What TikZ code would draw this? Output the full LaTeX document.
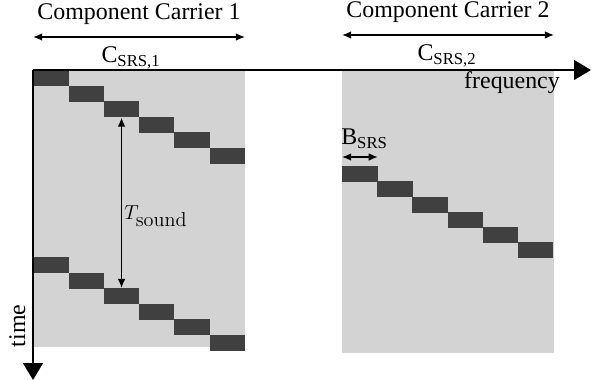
\documentclass[tikz,border=0pt]{standalone}
\usepackage[no-math]{fontspec}
\setmainfont{Liberation Serif}
\usepackage{xcolor}
\usetikzlibrary{arrows.meta}

\definecolor{bandgray}{HTML}{D3D3D3}
\definecolor{slotgray}{HTML}{404040}

\begin{document}
\begin{tikzpicture}[
        x=0.025cm, y=-0.025cm,
        band/.style={
            fill=bandgray,
            inner sep=0pt,
            anchor=north west,
            minimum width=5.3cm
        },
        slot/.style={
            fill=slotgray,
            inner sep=0pt,
            anchor=north west,
            minimum width=0.8825cm,
            minimum height=0.4cm
        },
        txt/.style={
            font=\rmfamily\fontsize{17}{20}\selectfont,
            inner sep=0pt,
            anchor=base
        },
        axis/.style={
            -{Triangle[length=12pt,width=14pt]},
            line width=1.4pt
        },
        span/.style={
            {Latex[length=6.5pt,width=5.5pt]}-{Latex[length=6.5pt,width=5.5pt]},
            line width=1.1pt
        }
    ]

    \useasboundingbox (0,0) rectangle (591,380);

    \node[band, minimum height=6.925cm] (cc1) at (33,70) {};
    \node[band, minimum height=7.075cm] (cc2) at (342,70) {};

    \foreach \i in {0,...,5} {
        \node[slot] (a\i) at (33+35.3*\i, 70+15.5*\i) {};
        \node[slot] (b\i) at (33+35.3*\i, 257+15.5*\i) {};
        \node[slot] (c\i) at (342+35.1*\i, 166+15.2*\i) {};
    }

    \coordinate (origin) at (33,70);
    \coordinate (fend) at (591,70);
    \coordinate (tend) at (33,380);
    \draw[axis] (origin) -- (fend);
    \draw[axis] (origin) -- (tend);

    \node[txt] (freq) at (512,89) {frequency};
    \node[txt, rotate=90] (time) at (25,326) {time};

    \node[txt] (name1) at (139,20) {Component Carrier 1};
    \node[txt] (name2) at (448,18) {Component Carrier 2};
    \coordinate (l1) at (33,37);
    \coordinate (r1) at (245,37);
    \coordinate (l2) at (342,35);
    \coordinate (r2) at (554,35);
    \draw[span] (l1) -- (r1);
    \draw[span] (l2) -- (r2);
    \node[txt] (csrs1) at (131,63) {C\textsubscript{SRS,1}};
    \node[txt] (csrs2) at (447,61) {C\textsubscript{SRS,2}};

    \draw[span] (a2.south) -- (b2.north);
    \node[txt, anchor=base west, font=\fontsize{14.5}{17}\selectfont] (tsound) at (124,219) {$T_{\textstyle\mathrm{sound}}$};

    \draw[span] ([yshift=6.4pt]c0.north west) -- ([yshift=6.4pt]c0.north east);
    \node[txt, anchor=base west] (bsrs) at (341,145) {B\textsubscript{SRS}};

\end{tikzpicture}
\end{document}
